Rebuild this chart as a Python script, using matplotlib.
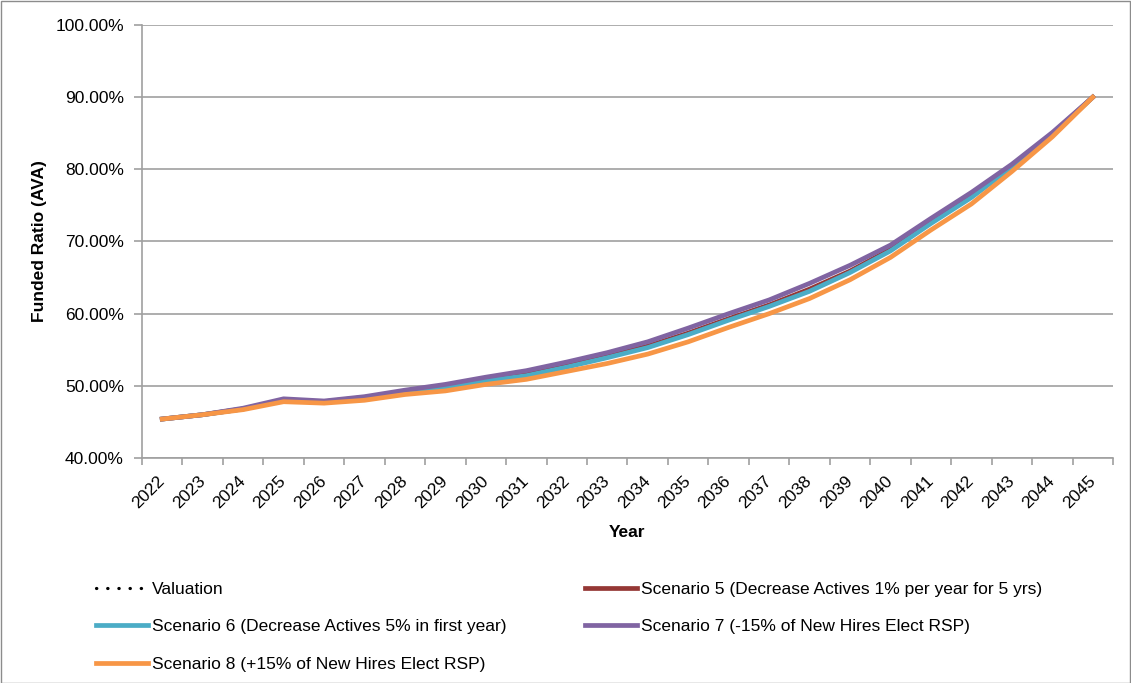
import matplotlib
matplotlib.use("Agg")
import matplotlib.pyplot as plt
from matplotlib.patches import Rectangle
from matplotlib.ticker import FuncFormatter, FixedLocator

plt.rcParams['font.family'] = ['Liberation Sans Narrow', 'Liberation Sans', 'DejaVu Sans']

# Data (funded ratio in %)
years = [str(y) for y in range(2022, 2046)]

valuation = [45.4, 46.0, 46.8, 48.0, 47.8, 48.4, 49.2, 49.9, 50.8, 51.6, 52.8, 54.1, 55.5, 57.3, 59.3, 61.2, 63.4, 65.9, 68.9, 72.7, 76.3, 80.4, 84.9, 90.0]
scenario_5 = [45.4, 46.0, 46.8, 48.0, 47.8, 48.4, 49.2, 49.9, 50.8, 51.6, 52.8, 54.1, 55.5, 57.3, 59.3, 61.2, 63.4, 65.9, 68.9, 72.7, 76.3, 80.4, 84.9, 90.0]
scenario_6 = [45.4, 46.0, 46.8, 48.0, 47.8, 48.3, 49.1, 49.8, 50.7, 51.4, 52.6, 53.9, 55.3, 57.1, 59.1, 61.0, 63.1, 65.7, 68.7, 72.5, 76.1, 80.3, 84.8, 90.0]
scenario_7 = [45.4, 46.0, 46.9, 48.2, 47.9, 48.5, 49.4, 50.2, 51.2, 52.1, 53.3, 54.6, 56.1, 58.0, 60.0, 61.9, 64.2, 66.7, 69.5, 73.2, 76.8, 80.7, 85.1, 90.0]
scenario_8 = [45.4, 46.0, 46.7, 47.8, 47.6, 48.0, 48.8, 49.3, 50.2, 50.9, 52.0, 53.1, 54.4, 56.1, 58.1, 60.0, 62.1, 64.7, 67.8, 71.6, 75.2, 79.7, 84.5, 90.0]

labels = [
    "Valuation",
    "Scenario 5 (Decrease Actives 1% per year for 5 yrs)",
    "Scenario 6 (Decrease Actives 5% in first year)",
    "Scenario 7 (-15% of New Hires Elect RSP)",
    "Scenario 8 (+15% of New Hires Elect RSP)",
]

W, H = 1131, 683
fig = plt.figure(figsize=(W / 100, H / 100), dpi=100)
ax = fig.add_axes([142 / W, 1 - 458 / H, (1113 - 142) / W, (458 - 25) / H])

x = list(range(len(years)))
grid_c = '#a0a0a0'
fs = 12.5

h_val, = ax.plot(x, valuation, color='black', lw=2.3, linestyle=(0, (0.1, 3.4)),
                 dash_capstyle='round', zorder=3)
h5, = ax.plot(x, scenario_5, color='#953735', lw=3.4, zorder=3)
h6, = ax.plot(x, scenario_6, color='#4BACC6', lw=3.4, zorder=3)
h7, = ax.plot(x, scenario_7, color='#8064A2', lw=3.4, zorder=3)
h8, = ax.plot(x, scenario_8, color='#F79646', lw=3.4, zorder=3)

ax.set_xlim(-0.5, len(years) - 0.5)
ax.set_ylim(40, 100)
ax.set_yticks(range(40, 101, 10))
ax.yaxis.set_major_formatter(FuncFormatter(lambda v, p: f"{v:.2f}%"))
ax.grid(axis='y', color=grid_c, lw=1.2)
ax.set_axisbelow(True)

ax.set_xticks(x)
ax.set_xticklabels(years, rotation=45, ha='right', va='center', rotation_mode='anchor')
ax.xaxis.set_minor_locator(FixedLocator([i - 0.5 for i in range(len(years) + 1)]))
ax.tick_params(axis='x', which='major', length=0, pad=15, labelsize=fs)
ax.tick_params(axis='x', which='minor', length=5, color=grid_c, width=1.2)
ax.tick_params(axis='y', length=6, color=grid_c, width=1.2, labelsize=fs, pad=7)

for s in ['top', 'right']:
    ax.spines[s].set_visible(False)
for s in ['left', 'bottom']:
    ax.spines[s].set_color(grid_c)
    ax.spines[s].set_linewidth(1.2)

ax.set_xlabel("Year", fontsize=fs, fontweight='bold', labelpad=10)
ax.set_ylabel("Funded Ratio (AVA)", fontsize=fs, fontweight='bold', labelpad=6)

handles = [h_val, h6, h8, h5, h7]
leg_labels = [labels[0], labels[2], labels[4], labels[1], labels[3]]
fig.legend(handles, leg_labels, ncol=2, loc='upper left',
           bbox_to_anchor=(80 / W, 1 - 566 / H), frameon=False,
           fontsize=fs, handlelength=3.0, handletextpad=0.25,
           columnspacing=4.5, labelspacing=1.3)

fig.patches.append(Rectangle((0.5 / W, 0.5 / H), 1 - 1.5 / W, 1 - 1.5 / H,
                             transform=fig.transFigure, fill=False,
                             edgecolor='#8c8c8c', lw=1))

fig.savefig("out.png", dpi=100)
